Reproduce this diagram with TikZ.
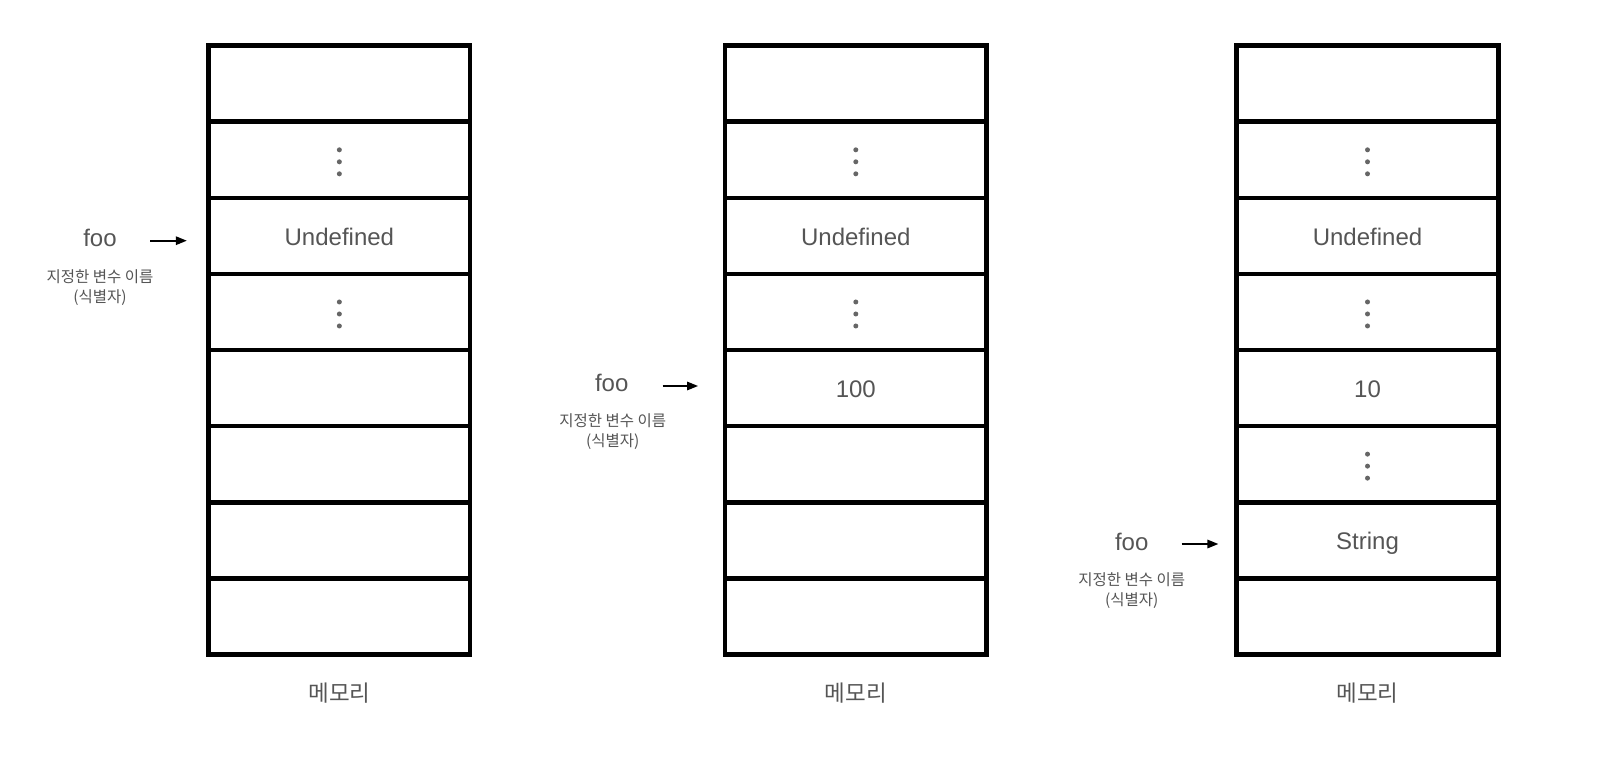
\documentclass[tikz,border=0pt]{standalone}
\usepackage{fontspec}
\setmainfont{Liberation Sans}
\newfontfamily\krfont{Noto Sans CJK KR}
\usetikzlibrary{arrows.meta}
\definecolor{txt}{HTML}{555555}
\definecolor{dotc}{HTML}{666666}
\tikzset{
  cell/.style={draw=black, line width=4.7pt, minimum width=261.5pt, minimum height=76.1pt, inner sep=0pt, outer sep=0pt},
  val/.style={text=txt, font=\fontsize{24}{28}\selectfont, anchor=base, inner sep=0pt},
  varname/.style={text=txt, font=\fontsize{24}{28}\selectfont, anchor=base, inner sep=0pt},
  krlab/.style={text=txt, font=\krfont\fontsize{15.5}{20}\selectfont, align=center, anchor=north, inner sep=0pt},
  memlab/.style={text=txt, font=\krfont\fontsize{22.5}{26}\selectfont, inner sep=0pt},
  ptr/.style={line width=1.6pt, -{Triangle[length=11pt,width=8.5pt]}},
  vdot/.style={fill=dotc}
}
\begin{document}
\begin{tikzpicture}[x=1pt,y=-1pt]
\useasboundingbox (0,0) rectangle (1600,776);
% memory columns
\foreach \c/\x in {1/339.35,2/855.8,3/1367.5}{
  \foreach \r in {0,...,7}{
    \node[cell] (c\c r\r) at (\x,{45.7+76.08*(\r+0.5)}) {};
  }
  \node[memlab] (m\c) at (\x,693) {메모리};
}
% vertical dots
\foreach \n in {c1r1,c1r3,c2r1,c2r3,c3r1,c3r3,c3r5}{
  \fill[vdot] ([yshift=10pt]\n.center) circle (2.5pt);
  \fill[vdot] ([yshift=-2pt]\n.center) circle (2.5pt);
  \fill[vdot] ([yshift=-14pt]\n.center) circle (2.5pt);
}
% values
\node[val,yshift=-9.5pt] (u1) at (c1r2.center) {Undefined};
\node[val,yshift=-9.5pt] (u2) at (c2r2.center) {Undefined};
\node[val,yshift=-9.5pt] (u3) at (c3r2.center) {Undefined};
\node[val,yshift=-9.5pt] (v2) at (c2r4.center) {100};
\node[val,yshift=-9.5pt] (v3) at (c3r4.center) {10};
\node[val,yshift=-9.5pt] (s3) at (c3r6.center) {String};
% identifiers
\node[varname] (f1) at (100,246.7) {foo};
\node[krlab] (k1) at (100,269) {지정한 변수 이름\\(식별자)};
\node[varname] (f2) at (611.7,391.7) {foo};
\node[krlab] (k2) at (612.7,413) {지정한 변수 이름\\(식별자)};
\node[varname] (f3) at (1131.7,550) {foo};
\node[krlab] (k3) at (1131.7,572) {지정한 변수 이름\\(식별자)};
% pointers
\coordinate (p1) at (150,240.7);
\coordinate (p2) at (662.7,386);
\coordinate (p3) at (1181.7,544);
\draw[ptr,shorten >=21.8pt] (p1) -- (p1 -| c1r2.west);
\draw[ptr,shorten >=27pt] (p2) -- (p2 -| c2r4.west);
\draw[ptr,shorten >=18.4pt] (p3) -- (p3 -| c3r6.west);
\end{tikzpicture}
\end{document}
